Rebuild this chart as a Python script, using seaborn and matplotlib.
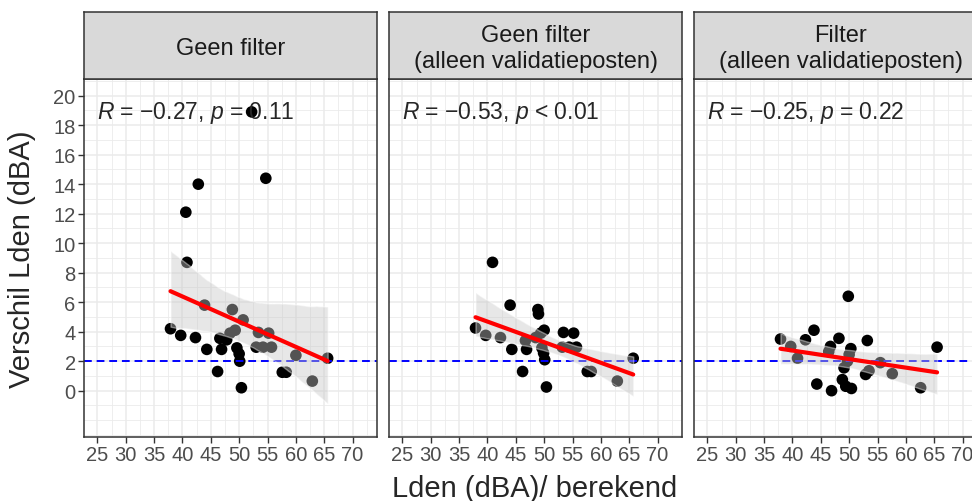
import pandas as pd
import numpy as np
import matplotlib
matplotlib.use("Agg")
import matplotlib.pyplot as plt
import seaborn as sns
from matplotlib.ticker import FixedLocator, MultipleLocator

# panel titles (strips) and the correlation labels
panels = ["Geen filter",
          "Geen filter\n(alleen validatieposten)",
          "Filter\n(alleen validatieposten)"]
cor_labels = [r"$R$ = $-$0.27, $p$ = 0.11",
              r"$R$ = $-$0.53, $p$ < 0.01",
              r"$R$ = $-$0.25, $p$ = 0.22"]

# Lden berekend (x) and verschil (y)
x_geen = [52.2, 54.7, 42.8, 40.6, 40.8, 43.9, 48.8, 50.7, 49.3, 48.4, 37.9, 39.7, 42.3, 46.6, 47.8, 53.4,
          55.2, 53.0, 54.2, 55.7, 44.3, 46.9, 49.6, 50.0, 50.1, 60.0, 65.6, 46.2, 57.6, 58.3, 62.9, 50.4]
y_geen = [18.9, 14.4, 14.0, 12.1, 8.7, 5.8, 5.5, 4.8, 4.1, 3.9, 4.2, 3.75, 3.6, 3.55, 3.45, 3.95,
          3.9, 2.95, 2.95, 2.95, 2.8, 2.8, 2.9, 2.5, 2.0, 2.4, 2.2, 1.3, 1.25, 1.25, 0.65, 0.2]

x_geen_val = [40.9, 44.0, 48.9, 49.0, 37.9, 39.7, 42.3, 50.0, 49.4, 48.5, 46.7, 53.4, 55.2, 53.2, 54.4,
              55.7, 44.3, 46.9, 49.6, 49.9, 50.1, 46.2, 57.6, 58.3, 50.4, 62.9, 65.7]
y_geen_val = [8.7, 5.8, 5.5, 5.2, 4.25, 3.75, 3.6, 4.1, 3.9, 3.6, 3.4, 3.95, 3.9, 2.95, 2.95,
              2.95, 2.8, 2.8, 2.9, 2.55, 2.1, 1.3, 1.3, 1.3, 0.25, 0.65, 2.2]

x_filter_val = [49.85, 43.8, 37.9, 42.3, 48.2, 53.2, 65.5, 39.7, 46.7, 46.4, 50.3, 50.0, 40.9, 49.7, 49.1,
                48.8, 55.5, 53.5, 52.9, 57.6, 44.3, 46.9, 49.4, 50.4, 62.6]
y_filter_val = [6.4, 4.1, 3.5, 3.45, 3.55, 3.4, 2.95, 3.0, 3.0, 2.65, 2.85, 2.45, 2.2, 2.0, 1.55,
                0.75, 1.9, 1.35, 1.1, 1.15, 0.45, 0.0, 0.3, 0.15, 0.2]

ref_line = 2

data = pd.concat([
    pd.DataFrame({"panel": panels[0], "x": x_geen, "y": y_geen}),
    pd.DataFrame({"panel": panels[1], "x": x_geen_val, "y": y_geen_val}),
    pd.DataFrame({"panel": panels[2], "x": x_filter_val, "y": y_filter_val}),
])

sns.set_theme(style="white")
plt.rcParams['font.family'] = ['Liberation Sans', 'DejaVu Sans']
plt.rcParams['mathtext.fontset'] = 'custom'
plt.rcParams['mathtext.rm'] = 'Liberation Sans'
plt.rcParams['mathtext.it'] = 'Liberation Sans:italic'

W, H = 972, 502
fig = plt.figure(figsize=(W / 100, H / 100), dpi=100)

for i, name in enumerate(panels):
    left = 84 + i * 305
    ax = fig.add_axes([left / W, 64 / H, 293 / W, 358 / H])
    sub = data[data["panel"] == name]

    sns.scatterplot(data=sub, x="x", y="y", ax=ax, color="black", s=70,
                    edgecolor="none", zorder=2, legend=False)
    ax.axhline(ref_line, color="blue", lw=1.4, ls=(0, (4, 2.5)), zorder=2.5)
    sns.regplot(data=sub, x="x", y="y", ax=ax, scatter=False, color="0.6",
                n_boot=2000, seed=3,
                line_kws=dict(color="red", lw=3, zorder=4))
    for coll in ax.collections:
        if isinstance(coll, matplotlib.collections.PolyCollection):
            coll.set_facecolor((0.78, 0.78, 0.78))
            coll.set_alpha(0.42)
            coll.set_zorder(3)

    ax.text(25, 18.9, cor_labels[i], fontsize=16.5, va="center", ha="left", zorder=5)

    ax.set_xlim(22.65, 74.3)
    ax.set_ylim(-3.14, 21.13)
    ax.xaxis.set_major_locator(FixedLocator(np.arange(25, 71, 5)))
    ax.xaxis.set_minor_locator(MultipleLocator(2.5))
    ax.yaxis.set_major_locator(FixedLocator(np.arange(0, 21, 2)))
    ax.yaxis.set_minor_locator(MultipleLocator(1))
    ax.grid(which="major", color="#EBEBEB", lw=1.1, zorder=0)
    ax.grid(which="minor", color="#EBEBEB", lw=0.6, zorder=0)
    ax.set_axisbelow(True)
    ax.tick_params(which="major", length=4, width=1, color="#333333",
                   labelcolor="#4D4D4D", labelsize=14.5, pad=2,
                   bottom=True, left=(i == 0))
    ax.tick_params(which="minor", length=0)
    if i > 0:
        ax.set_yticklabels([])
    for sp in ax.spines.values():
        sp.set_color("#333333")
        sp.set_linewidth(1.1)
    ax.set_xlabel("")
    ax.set_ylabel("")

    # facet strip
    sax = fig.add_axes([left / W, 422 / H, 293 / W, 67 / H])
    sax.set_facecolor("#D9D9D9")
    sax.set_xticks([])
    sax.set_yticks([])
    for sp in sax.spines.values():
        sp.set_color("#333333")
        sp.set_linewidth(1.1)
    sax.text(0.5, 0.46, name, ha="center", va="center", fontsize=17,
             color="#1A1A1A", transform=sax.transAxes, linespacing=1.2)

fig.text(535 / W, 5 / H, "Lden (dBA)/ berekend", ha="center", va="baseline", fontsize=21)
fig.text(22 / W, 243 / H, "Verschil Lden (dBA)", ha="center", va="center",
         rotation=90, fontsize=21)

fig.savefig("out.png", dpi=100)
